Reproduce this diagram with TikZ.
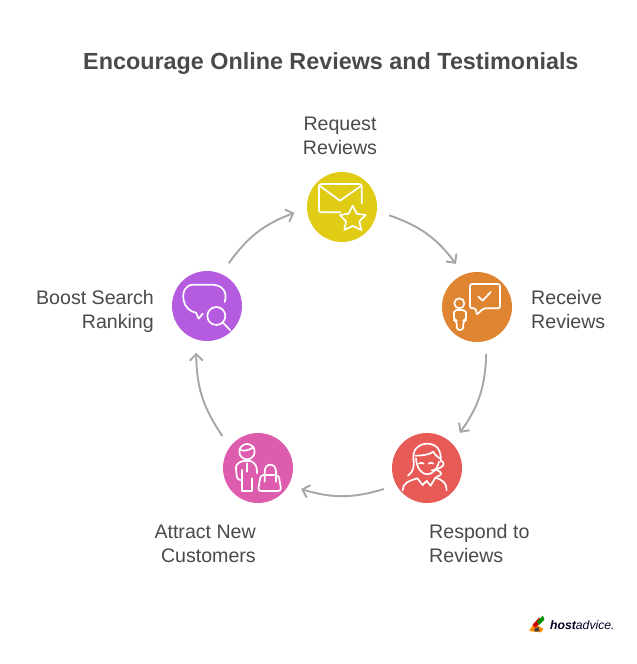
\documentclass[tikz,border=0pt]{standalone}
\usepackage{fontspec}
\setmainfont{Liberation Sans}
\usetikzlibrary{arrows.meta}
\definecolor{ink}{HTML}{4A4A4A}
\definecolor{linkc}{HTML}{A6A6A6}
\definecolor{cyel}{HTML}{E0CB15}
\definecolor{cora}{HTML}{DF8430}
\definecolor{cred}{HTML}{E85A55}
\definecolor{cpnk}{HTML}{DE5CAD}
\definecolor{cpur}{HTML}{B55BE0}
\tikzset{
  disc/.style={circle,minimum size=70pt,inner sep=0pt,outer sep=13pt},
  lab/.style={text=ink,font=\fontsize{19.6}{24}\selectfont,inner sep=0pt},
  link/.style={draw=linkc,line width=1.9pt,-{Straight Barb[length=6.5pt,width=13pt,line width=1.9pt]},bend left=17},
  icon/.style={draw=white,line width=1.7pt,line cap=round,line join=round},
  iconbox/.style={x=.3333pt,y=-.3333pt}
}
\begin{document}
\begin{tikzpicture}[x=1pt,y=-1pt]
\useasboundingbox[fill=white] (0,0) rectangle (637,664);
\node[anchor=base west,inner sep=0pt,text=ink,font=\fontsize{23.35}{28}\bfseries\selectfont] (title) at (83,69) {Encourage Online Reviews and Testimonials};
\node[disc,fill=cyel] (req) at (342,207) {};
\node[disc,fill=cora] (rec) at (477,307) {};
\node[disc,fill=cred] (res) at (427,468) {};
\node[disc,fill=cpnk] (att) at (258,468) {};
\node[disc,fill=cpur] (boo) at (207,306) {};
\node[lab,align=center,anchor=base] (lreq) at (340,154) {Request\\Reviews};
\node[lab,align=left,anchor=base west] (lrec) at (531,328) {Receive\\Reviews};
\node[lab,align=left,anchor=base west] (lres) at (429,562) {Respond to\\Reviews};
\node[lab,align=right,anchor=base east] (latt) at (256,562) {Attract New\\Customers};
\node[lab,align=right,anchor=base east] (lboo) at (154,328) {Boost Search\\Ranking};
\draw[link] (req.-10) to (rec.116);
\draw[link] (rec.-79) to (res.47);
\draw[link] (res.-154) to (att.-26);
\draw[link] (att.138) to (boo.-103);
\draw[link] (boo.63) to (req.187);
% request icon
\begin{scope}[shift={(280,160)},iconbox]
\draw[icon] (182,157) -- (125,157) .. controls (119,157) and (117,155) .. (117,149) -- (117,80) .. controls (117,74) and (119,72) .. (125,72) -- (237,72) .. controls (243,72) and (245,74) .. (245,80) -- (245,130);
\draw[icon] (120,78) -- (180,122) -- (243,78);
\draw[icon] (218,137) -- (230,161) -- (257,165) -- (238,184) -- (244,210) -- (218,198) -- (193,210) -- (198,184) -- (180,165) -- (206,161) -- cycle;
\end{scope}
% receive icon
\begin{scope}[shift={(430,260)},iconbox]
\draw[icon,rounded corners=2pt] (160,145) -- (140,165) -- (138,145) -- (120,145) -- (120,72) -- (210,72) -- (210,145) -- cycle;
\draw[icon] (145,110) -- (158,122) -- (182,96);
\draw[icon] (88,130) circle[radius=15];
\draw[icon,rounded corners=3pt] (80,210) -- (80,182) -- (72,180) -- (72,165) .. controls (72,155) and (80,150) .. (88,150) .. controls (98,150) and (108,155) .. (108,165) -- (108,180) -- (100,182) -- (100,210) -- cycle;
\end{scope}
% respond icon
\begin{scope}[shift={(380,425)},iconbox]
\draw[icon] (84,152) .. controls (100,140) and (104,125) .. (100,100) .. controls (98,70) and (120,56) .. (140,56) .. controls (170,56) and (185,75) .. (182,108);
\draw[icon] (106,92) .. controls (130,92) and (150,88) .. (160,80) .. controls (165,90) and (172,96) .. (180,100);
\draw[icon] (108,100) .. controls (110,130) and (125,148) .. (142,148) .. controls (158,148) and (172,132) .. (177,110);
\draw[icon] (117,116) .. controls (121,112) and (126,112) .. (131,116);
\draw[icon] (146,116) .. controls (150,112) and (156,112) .. (160,116);
\draw[icon] (182,108) .. controls (192,108) and (194,122) .. (184,126) .. controls (175,132) and (165,136) .. (155,136);
\draw[icon] (170,135) .. controls (185,140) and (190,150) .. (170,155);
\draw[icon] (68,196) .. controls (68,175) and (85,168) .. (112,160);
\draw[icon] (200,196) .. controls (200,175) and (190,165) .. (166,158);
\draw[icon] (112,160) -- (128,180) -- (140,168) -- (152,182) -- (166,158);
\end{scope}
% attract icon
\begin{scope}[shift={(212,425)},iconbox]
\draw[icon] (105,80) circle[radius=23];
\draw[icon] (84,75) .. controls (95,80) and (115,75) .. (125,66);
\draw[icon,rounded corners=3pt] (90,165) -- (76,165) -- (72,135) .. controls (72,118) and (85,108) .. (105,108) .. controls (120,108) and (130,118) .. (135,130) -- (135,145);
\draw[icon] (90,135) -- (90,198) -- (120,198) -- (120,160);
\draw[icon] (105,115) -- (105,140);
\draw[icon,rounded corners=3pt] (146,150) -- (200,150) -- (208,198) -- (138,198) -- cycle;
\draw[icon] (158,170) -- (158,140) .. controls (158,112) and (192,112) .. (192,140) -- (192,170);
\end{scope}
% boost icon
\begin{scope}[shift={(162,262)},iconbox]
\draw[icon] (188,120) .. controls (198,90) and (180,68) .. (150,68) -- (95,68) .. controls (70,68) and (60,90) .. (65,115) .. controls (68,135) and (85,150) .. (102,152) -- (110,170) -- (122,155);
\draw[icon] (163,162) circle[radius=27];
\draw[icon] (183,182) -- (205,205);
\end{scope}
% logo
\begin{scope}[shift={(515,605)},iconbox]
\fill[orange!90!yellow] (42,78) -- (58,55) -- (85,72) -- (78,82) -- cycle;
\fill[red!80!black] (52,60) -- (72,38) -- (80,48) -- (62,68) -- cycle;
\fill[green!55!black] (66,50) -- (84,32) -- (88,44) -- (72,60) -- cycle;
\fill[black!75] (58,72) -- (70,66) -- (74,78) -- (60,80) -- cycle;
\end{scope}
\node[anchor=base west,inner sep=0pt,text=black!85!blue,font=\fontsize{12.2}{16}\itshape\selectfont] (logo) at (550,629) {\textbf{host}advice.};
\end{tikzpicture}
\end{document}
